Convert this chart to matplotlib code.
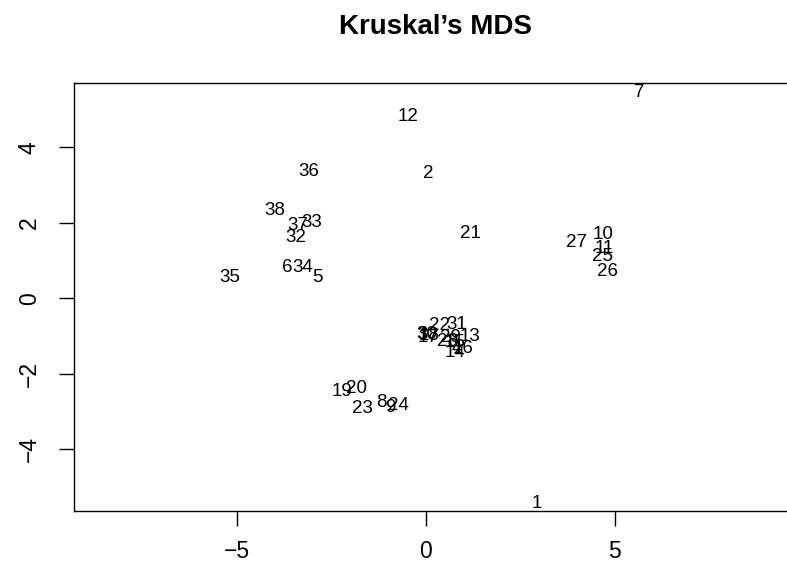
import matplotlib
matplotlib.use('Agg')
import matplotlib.pyplot as plt

# Kruskal's MDS configuration
labels = [str(i) for i in range(1, 39)]
xs = [2.94, 0.05, -0.08, 0.82, -2.86, -3.68, 5.63, -1.19, -0.95, 4.68,
      4.71, -0.48, 1.16, 0.77, 0.77, 0.98, 0.05, 0.08, -2.22, -1.83,
      1.19, 0.37, -1.69, -0.74, 4.66, 4.81, 3.97, 0.56, 0.66, 0.03,
      0.82, -3.44, -3.02, -3.25, -5.19, -3.10, -3.39, -4.00]
ys = [-5.43, 3.30, -0.95, -1.34, 0.54, 0.83, 5.47, -2.75, -2.89, 1.68,
      1.33, 4.81, -1.00, -1.45, -1.18, -1.32, -1.05, -0.98, -2.46, -2.38,
      1.71, -0.73, -2.91, -2.83, 1.10, 0.70, 1.49, -1.14, -1.03, -0.97,
      -0.70, 1.60, 2.00, 0.83, 0.54, 3.35, 1.92, 2.32]
xticks = [-5, 0, 5]
yticks = [-4, -2, 0, 2, 4]

plt.rcParams['font.family'] = ['Liberation Sans', 'DejaVu Sans']

fig = plt.figure(figsize=(7.87, 5.69), dpi=100)
ax = fig.add_axes([74 / 787, 1 - 511 / 569, (793 - 74) / 787, (511 - 83) / 569])

for lab, x, y in zip(labels, xs, ys):
    ax.text(x, y, lab, fontsize=13.5, ha='center', va='center', color='black')

ax.set_xlim(-9.31, 9.71)
ax.set_ylim(-5.64, 5.71)
ax.set_xticks(xticks)
ax.set_xticklabels(['\u22125', '0', '5'])
ax.set_yticks(yticks)
ax.set_yticklabels(['\u22124', '\u22122', '0', '2', '4'], rotation=90, va='center')
ax.tick_params(axis='both', length=11, width=1, labelsize=16.5, direction='out')
ax.tick_params(axis='x', pad=10)
ax.tick_params(axis='y', pad=13)
for s in ax.spines.values():
    s.set_linewidth(1)

fig.text(435 / 787, 1 - 27 / 569, "Kruskal\u2019s MDS", ha='center', va='center',
         fontsize=20, fontweight='bold')

fig.savefig('out.png', dpi=100, facecolor='white')
